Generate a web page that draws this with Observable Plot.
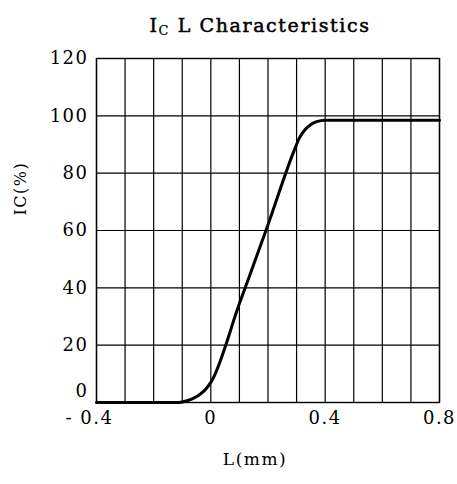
<!DOCTYPE html>
<html><head><meta charset="utf-8">
<script src="https://cdn.jsdelivr.net/npm/d3@7"></script>
<script src="https://cdn.jsdelivr.net/npm/@observablehq/plot@0.6"></script>
<style>
body{margin:0;background:#fff;}
#title{font-family:"DejaVu Serif";font-weight:normal;-webkit-text-stroke:0.5px black;font-size:19px;letter-spacing:1.6px;width:394px;padding-left:63px;text-align:center;height:26px;padding-top:14px;line-height:22px;white-space:nowrap;}
#title .sub{font-size:13px;vertical-align:-3px;-webkit-text-stroke:0.2px black;}
</style>
</head><body>
<div id="title">I<span class="sub">C</span> L Characteristics</div>
<div id="chart"></div>
<script>
// data
const L  = [-0.4, -0.12, -0.1, -0.08, -0.06, -0.04, -0.02, 0, 0.1, 0.2, 0.29, 0.31, 0.33, 0.35, 0.37, 0.4, 0.8];
const IC = [0, 0, 0.2, 0.7, 1.5, 2.7, 4.4, 7, 34.5, 62, 87.5, 92.3, 95.2, 97, 98, 98.5, 98.5];

const xGrid = [-0.4, -0.3, -0.2, -0.1, 0, 0.1, 0.2, 0.3, 0.4, 0.5, 0.6, 0.7, 0.8];
const xTicks = [0, 0.4, 0.8];
const xTickMinus = [-0.4];
const yTicks = [20, 40, 60, 80, 100, 120];
const yTickZero = [0];
const xLabel = "L(mm)";
const yLabel = "IC(%)";

const data = L.map((x, i) => ({x, y: IC[i]}));
const fmt = d => d < 0 ? "- " + String(-d) : String(d);

const chart = Plot.plot({
  width: 457,
  height: 444,
  marginTop: 18,
  marginBottom: 82,
  marginLeft: 96,
  marginRight: 18,
  style: {fontFamily: "DejaVu Serif", fontSize: "18px", color: "black", background: "white", letterSpacing: "1.5px"},
  x: {domain: [-0.4, 0.8]},
  y: {domain: [0, 120]},
  marks: [
    Plot.gridX(xGrid, {stroke: "black", strokeOpacity: 1, strokeWidth: 1.2}),
    Plot.gridY(yTicks, {stroke: "black", strokeOpacity: 1, strokeWidth: 1.2}),
    Plot.frame({stroke: "black", strokeWidth: 1.4}),
    Plot.line(data, {x: "x", y: "y", curve: "monotone-x", stroke: "black", strokeWidth: 3}),
    Plot.axisX(xTicks, {tickSize: 0, tickPadding: 9, tickFormat: fmt, label: null}),
    Plot.axisX(xTickMinus, {tickSize: 0, tickPadding: 9, tickFormat: fmt, dx: -7, label: null}),
    Plot.axisY(yTicks, {tickSize: 0, tickPadding: 8, tickFormat: d => String(d), label: null}),
    Plot.axisY(yTickZero, {tickSize: 0, tickPadding: 8, tickFormat: d => String(d), dy: -11, label: null}),
    Plot.text([xLabel], {text: d => d, frameAnchor: "bottom", dy: 62, dx: -13, fontSize: 17}),
    Plot.text([yLabel], {text: d => d, frameAnchor: "left", dx: -76, dy: -15, rotate: -90, fontSize: 16})
  ]
});
document.getElementById("chart").append(chart);
</script>
</body></html>
